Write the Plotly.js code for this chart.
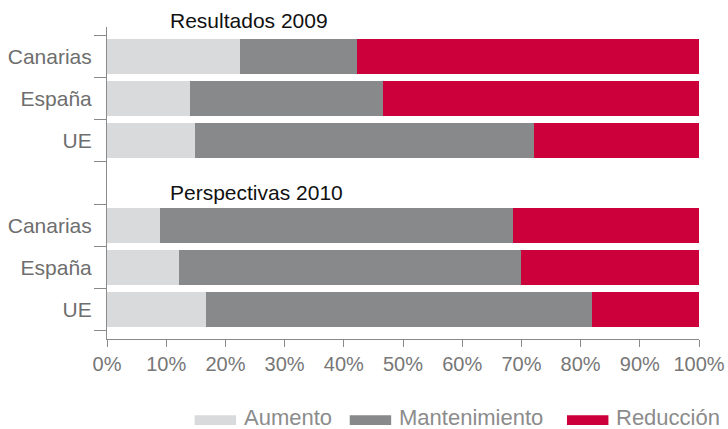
<!DOCTYPE html>
<html>
<head>
<meta charset="utf-8">
<script src="https://cdn.plot.ly/plotly-3.0.1.min.js"></script>
<style>
  body { margin: 0; background: #fff; }
  #chart { width: 728px; height: 429px; }
</style>
</head>
<body>
<div id="chart"></div>
<script>
// regions per group, a blank slot separates the two groups
let regions = ['Canarias', 'España', 'UE'];
let groups = ['Resultados 2009', 'Perspectivas 2010'];
let seriesNames = ['Aumento', 'Mantenimiento', 'Reducción'];
let colors = ['#d9dadb', '#88898b', '#cc003a'];

// values in %, order: Canarias, España, UE
let aumento2009 = [22.5, 14.0, 14.9];
let mantenimiento2009 = [19.7, 32.6, 57.2];
let reduccion2009 = [57.8, 53.4, 27.9];

let aumento2010 = [9.0, 12.2, 16.7];
let mantenimiento2010 = [59.6, 57.7, 65.2];
let reduccion2010 = [31.4, 30.1, 18.1];

let font = 'Liberation Sans, Arial, sans-serif';

// category keys: group 1, blank gap, group 2
let keys = [];
let labels = [];
regions.forEach(r => { keys.push('2009 ' + r); labels.push(r); });
keys.push('gap'); labels.push('');
regions.forEach(r => { keys.push('2010 ' + r); labels.push(r); });

let values = [
    aumento2009.concat(aumento2010),
    mantenimiento2009.concat(mantenimiento2010),
    reduccion2009.concat(reduccion2010),
];
let yKeys = keys.filter(k => k !== 'gap');

let data = seriesNames.map((name, i) => ({
    type: 'bar',
    orientation: 'h',
    name: name,
    x: values[i],
    y: yKeys,
    marker: { color: colors[i], line: { width: 0 } },
    hoverinfo: 'x+name',
}));

// custom legend with wide swatches
let legendX = [0.148, 0.410, 0.777];
let shapes = seriesNames.map((n, i) => ({
    type: 'rect',
    xref: 'paper', yref: 'paper',
    x0: legendX[i], x1: legendX[i] + 0.070,
    y0: -0.244, y1: -0.276,
    fillcolor: colors[i],
    line: { width: 0 },
}));
let annotations = seriesNames.map((n, i) => ({
    text: n,
    xref: 'paper', yref: 'paper',
    x: legendX[i] + 0.080, y: -0.253,
    xanchor: 'left', yanchor: 'middle',
    showarrow: false,
    font: { family: font, size: 22, color: '#8c8c8c' },
}));
annotations.push({
    text: groups[0],
    xref: 'paper', yref: 'paper',
    x: 0.103, y: 1.02,
    xanchor: 'left', yanchor: 'middle',
    showarrow: false,
    font: { family: font, size: 21, color: '#111' },
});
annotations.push({
    text: groups[1],
    xref: 'paper', yref: 'paper',
    x: 0.103, y: 0.468,
    xanchor: 'left', yanchor: 'middle',
    showarrow: false,
    font: { family: font, size: 21, color: '#111' },
});

let layout = {
    width: 728,
    height: 429,
    barmode: 'stack',
    bargap: 0.17,
    showlegend: false,
    margin: { l: 107, r: 29, t: 27, b: 90 },
    paper_bgcolor: '#fff',
    plot_bgcolor: '#fff',
    font: { family: font },
    xaxis: {
        range: [0, 100],
        tick0: 0,
        dtick: 10,
        ticksuffix: '%',
        showgrid: false,
        zeroline: false,
        showline: true,
        linecolor: '#8a8a8a',
        ticks: 'outside',
        ticklen: 7,
        tickcolor: '#8a8a8a',
        tickfont: { family: font, size: 20, color: '#777' },
        fixedrange: true,
    },
    yaxis: {
        type: 'category',
        categoryorder: 'array',
        categoryarray: keys,
        tickmode: 'array',
        tickvals: keys,
        ticktext: labels,
        tickson: 'boundaries',
        range: [6.7, -0.7],
        showgrid: false,
        zeroline: false,
        showline: true,
        linecolor: '#8a8a8a',
        ticks: 'outside',
        ticklen: 12,
        tickcolor: '#8a8a8a',
        ticklabelstandoff: 10,
        tickfont: { family: font, size: 21, color: '#6e6e6e' },
        fixedrange: true,
    },
    shapes: shapes,
    annotations: annotations,
};

Plotly.newPlot('chart', data, layout, { displayModeBar: false, staticPlot: true });
</script>
</body>
</html>
